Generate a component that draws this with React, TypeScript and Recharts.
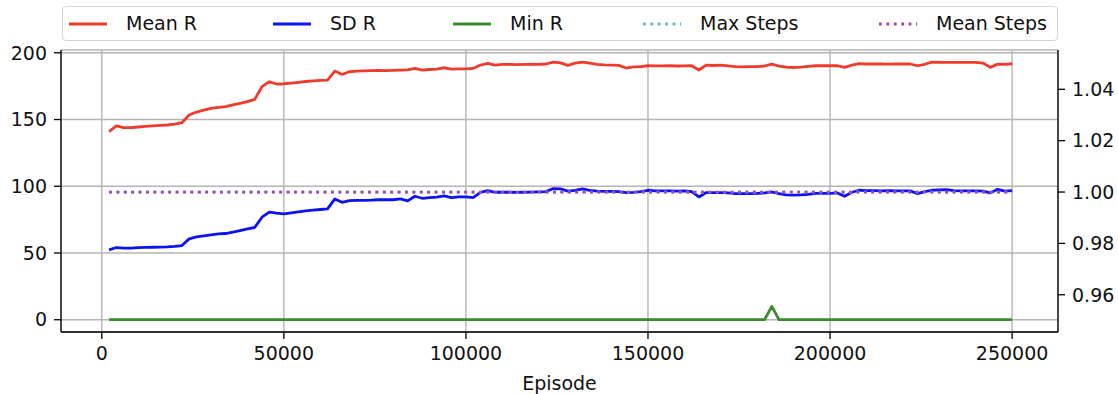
import { LineChart, Line, XAxis, YAxis, CartesianGrid } from 'recharts';

const FONT = '"DejaVu Sans", Verdana, sans-serif';
const RED = '#ef3a2c';
const BLUE = '#0c12f2';
const GREEN = '#3b8a2c';
const CYAN = '#5bbfc6';
const PURPLE = '#ad3cc4';

// episodes logged every 2000
const EPISODES = [
  2000, 4000, 6000, 8000, 10000, 12000, 14000, 16000, 18000, 20000,
  22000, 24000, 26000, 28000, 30000, 32000, 34000, 36000, 38000, 40000,
  42000, 44000, 46000, 48000, 50000, 52000, 54000, 56000, 58000, 60000,
  62000, 64000, 66000, 68000, 70000, 72000, 74000, 76000, 78000, 80000,
  82000, 84000, 86000, 88000, 90000, 92000, 94000, 96000, 98000, 100000,
  102000, 104000, 106000, 108000, 110000, 112000, 114000, 116000, 118000, 120000,
  122000, 124000, 126000, 128000, 130000, 132000, 134000, 136000, 138000, 140000,
  142000, 144000, 146000, 148000, 150000, 152000, 154000, 156000, 158000, 160000,
  162000, 164000, 166000, 168000, 170000, 172000, 174000, 176000, 178000, 180000,
  182000, 184000, 186000, 188000, 190000, 192000, 194000, 196000, 198000, 200000,
  202000, 204000, 206000, 208000, 210000, 212000, 214000, 216000, 218000, 220000,
  222000, 224000, 226000, 228000, 230000, 232000, 234000, 236000, 238000, 240000,
  242000, 244000, 246000, 248000, 250000,
];

const MEAN_R = [
  140.9, 145.2, 143.9, 144.0, 144.4, 144.8, 145.3, 145.6, 145.9, 146.5,
  147.6, 153.4, 155.6, 157.1, 158.4, 159.1, 159.6, 160.9, 162.1, 163.4,
  165.1, 174.6, 178.3, 176.6, 176.8, 177.3, 177.9, 178.5, 179.0, 179.3,
  179.6, 186.3, 183.8, 185.8, 186.2, 186.5, 186.6, 186.8, 186.6, 186.8,
  187.0, 187.2, 188.3, 187.0, 187.5, 187.8, 188.8, 187.8, 187.9, 188.0,
  188.3, 190.8, 192.0, 190.8, 191.3, 191.3, 191.2, 191.3, 191.3, 191.4,
  191.6, 193.0, 192.5, 190.6, 192.3, 193.0, 192.2, 191.3, 190.9, 190.8,
  190.6, 188.6, 189.4, 189.6, 190.3, 190.2, 190.2, 190.3, 190.1, 190.2,
  190.3, 187.1, 190.8, 190.5, 190.8, 190.2, 189.6, 189.5, 189.6, 189.6,
  190.1, 191.5, 190.0, 189.2, 189.0, 189.2, 189.8, 190.3, 190.3, 190.4,
  190.3, 189.1, 190.8, 191.8, 191.6, 191.7, 191.6, 191.5, 191.6, 191.6,
  191.6, 190.3, 191.4, 193.0, 192.8, 192.8, 192.9, 192.8, 192.8, 192.8,
  192.3, 189.1, 191.5, 191.3, 191.8,
];

const SD_R = [
  52.4, 54.1, 53.6, 53.7, 54.0, 54.2, 54.3, 54.4, 54.6, 55.0,
  55.6, 60.6, 62.1, 62.9, 63.6, 64.3, 64.6, 65.6, 66.8, 68.1,
  69.1, 76.8, 80.6, 79.8, 79.3, 80.0, 80.8, 81.5, 82.1, 82.6,
  83.1, 90.5, 88.0, 89.3, 89.5, 89.5, 89.6, 89.9, 89.9, 89.9,
  90.5, 89.0, 92.5, 91.0, 91.5, 91.8, 92.8, 91.5, 92.0, 92.0,
  91.5, 95.5, 96.8, 95.5, 95.5, 95.5, 95.4, 95.5, 95.6, 95.8,
  96.0, 98.3, 98.0, 96.3, 97.0, 98.0, 97.0, 96.3, 96.2, 96.2,
  96.0, 95.3, 95.4, 96.0, 97.0, 96.6, 96.5, 96.5, 96.4, 96.5,
  96.0, 92.0, 95.3, 95.3, 95.2, 95.0, 94.5, 94.5, 94.5, 94.6,
  95.0, 95.7, 94.4, 93.5, 93.4, 93.5, 94.0, 94.6, 94.6, 94.7,
  95.0, 92.5, 95.5, 97.0, 96.7, 96.7, 96.6, 96.7, 96.6, 96.6,
  96.5, 94.5, 96.0, 97.0, 97.3, 97.5, 96.8, 96.6, 96.5, 96.5,
  96.4, 95.0, 97.7, 96.3, 96.7,
];

const MIN_R = [
  0, 0, 0, 0, 0, 0, 0, 0, 0, 0,
  0, 0, 0, 0, 0, 0, 0, 0, 0, 0,
  0, 0, 0, 0, 0, 0, 0, 0, 0, 0,
  0, 0, 0, 0, 0, 0, 0, 0, 0, 0,
  0, 0, 0, 0, 0, 0, 0, 0, 0, 0,
  0, 0, 0, 0, 0, 0, 0, 0, 0, 0,
  0, 0, 0, 0, 0, 0, 0, 0, 0, 0,
  0, 0, 0, 0, 0, 0, 0, 0, 0, 0,
  0, 0, 0, 0, 0, 0, 0, 0, 0, 0,
  0, 10, 0, 0, 0, 0, 0, 0, 0, 0,
  0, 0, 0, 0, 0, 0, 0, 0, 0, 0,
  0, 0, 0, 0, 0, 0, 0, 0, 0, 0,
  0, 0, 0, 0, 0,
];

// steps are flat at 1 over the whole run (right axis)
const STEP_EPISODES = [2000, 250000];
const MAX_STEPS = [1, 1];
const MEAN_STEPS = [1, 1];

const X_TICKS = [0, 50000, 100000, 150000, 200000, 250000];
const LEFT_TICKS = [0, 50, 100, 150, 200];
const RIGHT_TICKS = [0.96, 0.98, 1.0, 1.02, 1.04];

const rows = EPISODES.map((episode, i) => ({
  episode,
  meanR: MEAN_R[i],
  sdR: SD_R[i],
  minR: MIN_R[i],
}));

const stepRows = STEP_EPISODES.map((episode, i) => ({
  episode,
  maxSteps: MAX_STEPS[i],
  meanSteps: MEAN_STEPS[i],
}));

const LEGEND_ITEMS = [
  { label: 'Mean R', color: RED, dotted: false, x: 6 },
  { label: 'SD R', color: BLUE, dotted: false, x: 210 },
  { label: 'Min R', color: GREEN, dotted: false, x: 390 },
  { label: 'Max Steps', color: CYAN, dotted: true, x: 580 },
  { label: 'Mean Steps', color: PURPLE, dotted: true, x: 816 },
];

const tickStyle = { fill: '#111', fontSize: 19, fontFamily: FONT };
const axisLine = { stroke: '#000', strokeWidth: 1.3 };

function ChartLegend() {
  return (
    <div
      style={{
        position: 'absolute', left: 62, top: 6, width: 996, height: 35,
        border: '1px solid #d4d4d4', borderRadius: 4, boxSizing: 'border-box',
        background: 'rgba(255,255,255,0.8)',
      }}
    >
      {LEGEND_ITEMS.map((it) => (
        <div key={it.label}>
          <svg style={{ position: 'absolute', left: it.x, top: 14 }} width={38} height={6}>
            <line
              x1={0} x2={38} y1={3} y2={3}
              stroke={it.color} strokeWidth={2.8}
              strokeDasharray={it.dotted ? '2.8 4.6' : undefined}
            />
          </svg>
          <span
            style={{
              position: 'absolute', left: it.x + 57, top: 5,
              fontFamily: FONT, fontSize: 19, lineHeight: '22px', color: '#111', whiteSpace: 'nowrap',
            }}
          >
            {it.label}
          </span>
        </div>
      ))}
    </div>
  );
}

export default function App() {
  return (
    <div style={{ position: 'absolute', left: 0, top: 0, width: 1118, height: 394, background: '#fff' }}>
      <LineChart width={1118} height={394} data={rows} margin={{ top: 50, right: 0, bottom: 0, left: 0 }}>
        <CartesianGrid xAxisId="bottom" yAxisId="left" stroke="#b4b4b4" strokeWidth={1.4} />
        <XAxis
          xAxisId="bottom" dataKey="episode" type="number" domain={[-11200, 262600]} allowDataOverflow
          ticks={X_TICKS} interval={0} height={62} tickSize={7} tickMargin={8}
          axisLine={axisLine} tickLine={axisLine} tick={tickStyle}
          label={{ value: 'Episode', position: 'insideBottom', offset: 4, fill: '#111', fontSize: 19, fontFamily: FONT }}
        />
        <XAxis
          xAxisId="top" orientation="top" type="number" domain={[-11200, 262600]} allowDataOverflow
          height={0} tick={false} tickLine={false} axisLine={axisLine}
        />
        <YAxis
          yAxisId="left" type="number" domain={[-9.2, 202.1]} allowDataOverflow
          ticks={LEFT_TICKS} interval={0} width={61} tickSize={7} tickMargin={7}
          axisLine={axisLine} tickLine={axisLine} tick={tickStyle}
        />
        <YAxis
          yAxisId="right" orientation="right" type="number" domain={[0.9455, 1.0553]} allowDataOverflow
          ticks={RIGHT_TICKS} interval={0} width={60} tickSize={7} tickMargin={7}
          axisLine={axisLine} tickLine={axisLine} tick={tickStyle}
          tickFormatter={(v: number) => v.toFixed(2)}
        />
        <Line xAxisId="bottom" yAxisId="left" dataKey="meanR" name="Mean R" stroke={RED} strokeWidth={2.8}
          dot={false} isAnimationActive={false} strokeLinejoin="round" />
        <Line xAxisId="bottom" yAxisId="left" dataKey="sdR" name="SD R" stroke={BLUE} strokeWidth={2.8}
          dot={false} isAnimationActive={false} strokeLinejoin="round" />
        <Line xAxisId="bottom" yAxisId="left" dataKey="minR" name="Min R" stroke={GREEN} strokeWidth={2.8}
          dot={false} isAnimationActive={false} strokeLinejoin="round" />
        <Line xAxisId="bottom" yAxisId="right" data={stepRows} dataKey="maxSteps" name="Max Steps" stroke={CYAN}
          strokeWidth={2.8} strokeDasharray="2.8 4.6" dot={false} isAnimationActive={false} />
        <Line xAxisId="bottom" yAxisId="right" data={stepRows} dataKey="meanSteps" name="Mean Steps" stroke={PURPLE}
          strokeWidth={2.8} strokeDasharray="2.8 4.6" dot={false} isAnimationActive={false} />
      </LineChart>
      <ChartLegend />
    </div>
  );
}
